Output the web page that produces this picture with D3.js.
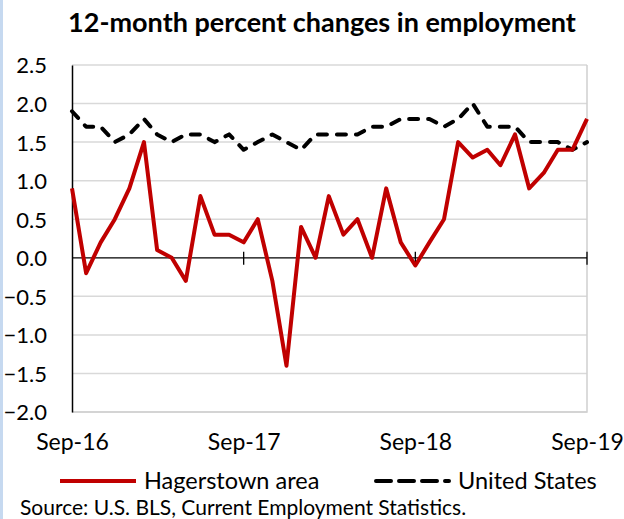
<!DOCTYPE html>
<html>
<head>
<meta charset="utf-8">
<script src="https://cdn.jsdelivr.net/npm/d3@7"></script>
<style>
  html, body { margin: 0; padding: 0; background: #ffffff; }
  svg { display: block; }
</style>
</head>
<body>
<svg id="chart" width="624" height="519"></svg>
<script>
// Monthly observations, Sep 2016 through Sep 2019
const months = d3.timeMonth.range(new Date(2016, 8, 1), new Date(2019, 9, 1));
const hagerstown = [0.9, -0.2, 0.2, 0.5, 0.9, 1.5, 0.1, 0.0, -0.3, 0.8, 0.3, 0.3,
                    0.2, 0.5, -0.3, -1.4, 0.4, 0.0, 0.8, 0.3, 0.5, 0.0, 0.9, 0.2,
                    -0.1, 0.2, 0.5, 1.5, 1.3, 1.4, 1.2, 1.6, 0.9, 1.1, 1.4, 1.4, 1.8];
const unitedStates = [1.9, 1.7, 1.7, 1.5, 1.6, 1.8, 1.6, 1.5, 1.6, 1.6, 1.5, 1.6,
                      1.4, 1.5, 1.6, 1.5, 1.4, 1.6, 1.6, 1.6, 1.6, 1.7, 1.7, 1.8,
                      1.8, 1.8, 1.7, 1.8, 2.0, 1.7, 1.7, 1.7, 1.5, 1.5, 1.5, 1.4, 1.5];
const yTicks = [2.5, 2.0, 1.5, 1.0, 0.5, 0.0, -0.5, -1.0, -1.5, -2.0];
const xTickLabels = ["Sep-16", "Sep-17", "Sep-18", "Sep-19"];
const seriesNames = ["Hagerstown area", "United States"];

const svg = d3.select("#chart");
const font = "Lato, 'Open Sans', sans-serif";
const red = "#c00000";

// left page accent strip
svg.append("rect").attr("x", 0).attr("y", 0).attr("width", 3).attr("height", 519)
  .attr("fill", "#c6d9f0");

const plot = { left: 72, right: 587, top: 65, bottom: 412 };

const x = d3.scaleTime()
  .domain([months[0], months[months.length - 1]])
  .range([plot.left, plot.right]);
const y = d3.scaleLinear().domain([-2.0, 2.5]).range([plot.bottom, plot.top]);

// title
svg.append("text")
  .attr("x", 322).attr("y", 32)
  .attr("text-anchor", "middle")
  .attr("font-family", font).attr("font-weight", "bold").attr("font-size", 27)
  .attr("fill", "#000")
  .text("12-month percent changes in employment");

// grid lines
svg.append("g")
  .selectAll("line")
  .data(yTicks.filter(d => d !== 0))
  .join("line")
  .attr("x1", plot.left).attr("x2", plot.right)
  .attr("y1", d => y(d)).attr("y2", d => y(d))
  .attr("stroke", "#d9d9d9").attr("stroke-width", 1.5);

// plot frame (right and bottom edges)
svg.append("path")
  .attr("d", `M${plot.left},${plot.bottom}H${plot.right}V${plot.top}`)
  .attr("fill", "none").attr("stroke", "#d0d0d0").attr("stroke-width", 1.5);

// y axis
const yAxis = d3.axisLeft(y).tickValues(yTicks).tickSize(0).tickPadding(25)
  .tickFormat(d3.format(".1f"));
const gy = svg.append("g").attr("transform", `translate(${plot.left},0)`).call(yAxis);
gy.select(".domain").attr("stroke", "#000").attr("stroke-width", 1.5);
gy.selectAll("text")
  .attr("font-family", font).attr("font-size", 22).attr("fill", "#000")
  .attr("dy", "0.36em");

// zero line with yearly ticks
const yearTicks = months.filter((d, i) => i % 12 === 0);
svg.append("line")
  .attr("x1", plot.left).attr("x2", plot.right)
  .attr("y1", y(0)).attr("y2", y(0))
  .attr("stroke", "#000").attr("stroke-width", 1.3);
svg.append("g")
  .selectAll("line")
  .data(yearTicks.slice(1))
  .join("line")
  .attr("x1", d => x(d)).attr("x2", d => x(d))
  .attr("y1", y(0) - 6).attr("y2", y(0) + 7)
  .attr("stroke", "#000").attr("stroke-width", 1.3);

// x axis labels below the frame
const xAxis = d3.axisBottom(x).tickValues(yearTicks).tickSize(0).tickPadding(0)
  .tickFormat((d, i) => xTickLabels[i]);
const gx = svg.append("g").attr("transform", `translate(0,450)`).call(xAxis);
gx.select(".domain").remove();
gx.selectAll("text")
  .attr("font-family", font).attr("font-size", 23).attr("fill", "#000")
  .attr("dy", "0");

// series lines
const line = d3.line().x((d, i) => x(months[i])).y(d => y(d));

svg.append("path")
  .datum(unitedStates)
  .attr("d", line)
  .attr("fill", "none").attr("stroke", "#000").attr("stroke-width", 4)
  .attr("stroke-linecap", "round").attr("stroke-linejoin", "round")
  .attr("stroke-dasharray", "9,10");

svg.append("path")
  .datum(hagerstown)
  .attr("d", line)
  .attr("fill", "none").attr("stroke", red).attr("stroke-width", 4)
  .attr("stroke-linejoin", "round");

// legend
const legend = svg.append("g").attr("font-family", font).attr("font-size", 23.5);
legend.append("line")
  .attr("x1", 60).attr("x2", 136).attr("y1", 481).attr("y2", 481)
  .attr("stroke", red).attr("stroke-width", 4);
legend.append("text").attr("x", 144).attr("y", 489).attr("fill", "#000").text(seriesNames[0]);
legend.append("line")
  .attr("x1", 376).attr("x2", 449).attr("y1", 481).attr("y2", 481)
  .attr("stroke", "#000").attr("stroke-width", 4)
  .attr("stroke-linecap", "round").attr("stroke-dasharray", "15,8");
legend.append("text").attr("x", 458).attr("y", 489).attr("fill", "#000").text(seriesNames[1]);

// source note
svg.append("text")
  .attr("x", 20).attr("y", 515)
  .attr("font-family", font).attr("font-size", 21).attr("fill", "#000")
  .text("Source: U.S. BLS, Current Employment Statistics.");
</script>
</body>
</html>
